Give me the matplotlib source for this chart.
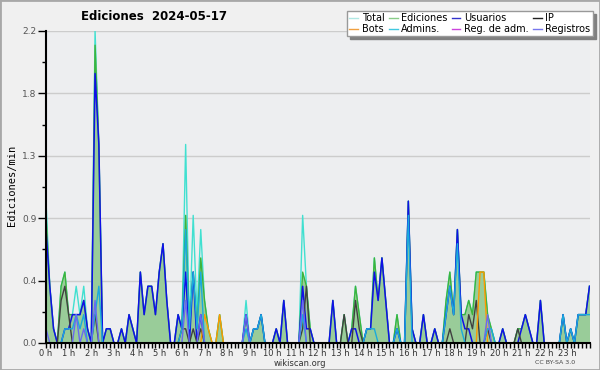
import numpy as np
import matplotlib
matplotlib.use('Agg')
import matplotlib.pyplot as plt
from matplotlib.lines import Line2D
from matplotlib.patches import Rectangle

# edits per 10-minute bin, 145 points from 0 h to 24 h (one row per hour)
ediciones = [
    9, 4, 1, 0, 4, 5,
    2, 2, 2, 2, 3, 1,
    0, 21, 14, 0, 1, 1,
    0, 0, 1, 0, 2, 1,
    0, 5, 2, 4, 4, 2,
    5, 7, 3, 0, 0, 2,
    1, 9, 1, 5, 1, 6,
    3, 1, 0, 0, 2, 0,
    0, 0, 0, 0, 0, 2,
    0, 1, 1, 2, 0, 0,
    0, 1, 0, 3, 0, 0,
    0, 0, 5, 4, 1, 0,
    0, 0, 0, 0, 3, 0,
    0, 2, 0, 1, 4, 2,
    0, 1, 1, 6, 3, 6,
    3, 0, 0, 2, 0, 0,
    10, 1, 0, 0, 2, 0,
    0, 1, 0, 0, 3, 5,
    2, 8, 2, 2, 3, 2,
    5, 5, 5, 2, 1, 0,
    0, 1, 0, 0, 0, 1,
    1, 2, 1, 0, 0, 3,
    0, 0, 0, 0, 0, 2,
    0, 1, 0, 2, 2, 2,
    4]

total = [
    10, 4, 1, 0, 4, 5,
    2, 2, 4, 2, 4, 1,
    0, 22, 14, 0, 1, 1,
    0, 0, 1, 0, 2, 1,
    0, 5, 2, 4, 4, 2,
    5, 7, 3, 0, 0, 2,
    1, 14, 1, 9, 2, 8,
    3, 1, 0, 0, 2, 0,
    0, 0, 0, 0, 0, 3,
    0, 1, 1, 2, 0, 0,
    0, 1, 0, 3, 0, 0,
    0, 0, 9, 4, 1, 0,
    0, 0, 0, 0, 3, 0,
    0, 2, 0, 1, 4, 2,
    0, 1, 1, 6, 3, 6,
    3, 0, 0, 2, 0, 0,
    10, 1, 0, 0, 2, 0,
    0, 1, 0, 0, 3, 5,
    2, 8, 2, 2, 3, 2,
    5, 5, 5, 2, 1, 0,
    0, 1, 0, 0, 0, 1,
    1, 2, 1, 0, 0, 3,
    0, 0, 0, 0, 0, 2,
    0, 1, 0, 2, 2, 2,
    4]

usuarios = [
    8, 4, 1, 0, 0, 1,
    1, 2, 2, 2, 3, 1,
    0, 19, 14, 0, 1, 1,
    0, 0, 1, 0, 2, 1,
    0, 5, 2, 4, 4, 2,
    5, 7, 3, 0, 0, 2,
    1, 5, 0, 5, 0, 2,
    0, 0, 0, 0, 0, 0,
    0, 0, 0, 0, 0, 2,
    0, 1, 1, 2, 0, 0,
    0, 1, 0, 3, 0, 0,
    0, 0, 4, 1, 1, 0,
    0, 0, 0, 0, 3, 0,
    0, 0, 0, 1, 1, 0,
    0, 1, 1, 5, 3, 6,
    3, 0, 0, 1, 0, 0,
    10, 1, 0, 0, 2, 0,
    0, 1, 0, 0, 2, 4,
    2, 8, 2, 1, 1, 0,
    0, 0, 0, 0, 0, 0,
    0, 1, 0, 0, 0, 0,
    1, 2, 1, 0, 0, 3,
    0, 0, 0, 0, 0, 2,
    0, 1, 0, 2, 2, 2,
    4]

ip = [
    0, 0, 0, 0, 3, 4,
    2, 0, 0, 0, 0, 0,
    0, 2, 0, 0, 0, 0,
    0, 0, 0, 0, 0, 0,
    0, 0, 0, 0, 0, 0,
    0, 0, 0, 0, 0, 0,
    1, 1, 0, 1, 0, 1,
    0, 0, 0, 0, 0, 0,
    0, 0, 0, 0, 0, 0,
    0, 0, 0, 0, 0, 0,
    0, 0, 0, 0, 0, 0,
    0, 0, 1, 4, 0, 0,
    0, 0, 0, 0, 0, 0,
    0, 2, 0, 0, 3, 1,
    0, 0, 0, 0, 0, 0,
    0, 0, 0, 0, 0, 0,
    0, 0, 0, 0, 0, 0,
    0, 0, 0, 0, 0, 1,
    0, 0, 0, 0, 2, 1,
    3, 0, 0, 1, 0, 0,
    0, 0, 0, 0, 0, 1,
    0, 0, 0, 0, 0, 0,
    0, 0, 0, 0, 0, 0,
    0, 0, 0, 0, 0, 0,
    0]

bots = [
    0, 0, 0, 0, 0, 0,
    0, 0, 0, 0, 0, 0,
    0, 0, 0, 0, 0, 0,
    0, 0, 0, 0, 0, 0,
    0, 0, 0, 0, 0, 0,
    0, 0, 0, 0, 0, 0,
    0, 0, 0, 0, 0, 0,
    2, 1, 0, 0, 2, 0,
    0, 0, 0, 0, 0, 0,
    0, 0, 0, 0, 0, 0,
    0, 0, 0, 0, 0, 0,
    0, 0, 0, 0, 0, 0,
    0, 0, 0, 0, 0, 0,
    0, 0, 0, 0, 0, 0,
    0, 0, 0, 0, 0, 0,
    0, 0, 0, 0, 0, 0,
    0, 0, 0, 0, 0, 0,
    0, 0, 0, 0, 0, 0,
    0, 0, 0, 0, 0, 0,
    0, 5, 5, 0, 0, 0,
    0, 0, 0, 0, 0, 0,
    0, 0, 0, 0, 0, 0,
    0, 0, 0, 0, 0, 0,
    0, 0, 0, 0, 0, 0,
    0]

admins = [
    0, 0, 0, 0, 0, 1,
    1, 1, 2, 1, 2, 0,
    0, 2, 4, 0, 0, 0,
    0, 0, 0, 0, 0, 0,
    0, 0, 0, 0, 0, 0,
    0, 0, 0, 0, 0, 0,
    1, 8, 1, 5, 1, 5,
    0, 0, 0, 0, 0, 0,
    0, 0, 0, 0, 0, 1,
    0, 1, 1, 2, 0, 0,
    0, 0, 0, 0, 0, 0,
    0, 0, 2, 0, 0, 0,
    0, 0, 0, 0, 0, 0,
    0, 0, 0, 0, 0, 0,
    0, 1, 1, 1, 0, 0,
    0, 0, 0, 1, 0, 0,
    9, 0, 0, 0, 0, 0,
    0, 0, 0, 0, 2, 4,
    2, 7, 1, 0, 0, 0,
    0, 0, 0, 1, 1, 0,
    0, 0, 0, 0, 0, 0,
    0, 0, 0, 0, 0, 0,
    0, 0, 0, 0, 0, 2,
    0, 1, 0, 2, 2, 2,
    2]

registros = [
    1, 0, 0, 0, 0, 0,
    0, 0, 2, 0, 1, 0,
    0, 3, 0, 0, 0, 0,
    0, 0, 0, 0, 0, 0,
    0, 0, 0, 0, 0, 0,
    0, 0, 0, 0, 0, 0,
    0, 3, 0, 0, 0, 2,
    0, 0, 0, 0, 0, 0,
    0, 0, 0, 0, 0, 2,
    0, 0, 0, 0, 0, 0,
    0, 0, 0, 0, 0, 0,
    0, 0, 3, 0, 0, 0,
    0, 0, 0, 0, 0, 0,
    0, 0, 0, 0, 0, 0,
    0, 0, 0, 0, 0, 0,
    0, 0, 0, 0, 0, 0,
    0, 0, 0, 0, 0, 0,
    0, 0, 0, 0, 0, 0,
    0, 0, 0, 0, 0, 0,
    0, 0, 0, 2, 0, 0,
    0, 0, 0, 0, 0, 0,
    0, 0, 0, 0, 0, 0,
    0, 0, 0, 0, 0, 0,
    0, 0, 0, 0, 0, 0,
    0]

hour_labels = ['%d h' % h for h in range(24)]
ytick_vals = [0, 0.44, 0.88, 1.32, 1.76, 2.2]
ytick_labels = ['0.0', '0.4', '0.9', '1.3', '1.8', '2.2']

t = np.arange(len(ediciones)) / 6.0   # hours

def per_min(a):
    return np.array(a) / 10.0

fig = plt.figure(figsize=(6, 3.7), dpi=100, facecolor='#f0f0f0')
fig.patches.append(Rectangle((0, 0), 1, 1, transform=fig.transFigure,
                             fill=False, edgecolor='#a8a8a8', lw=2))
ax = fig.add_axes([46 / 600, 27 / 370, 543.5 / 600, 312 / 370])
ax.set_facecolor('#edeef0')

ax.plot(t, per_min(total), color='#40e0d0', lw=1.0, zorder=2)
ax.fill_between(t, 0, per_min(ediciones), color='#99cc99', lw=0, zorder=3)
ax.plot(t, per_min(ediciones), color='#3cb43c', lw=1.0, zorder=4)
ax.plot(t, per_min(usuarios), color='#1010e8', lw=1.1, zorder=5)
ax.plot(t, per_min(ip), color='#404040', lw=1.0, zorder=6)
ax.plot(t, per_min(bots), color='#ff9900', lw=1.0, zorder=7)
ax.plot(t, per_min(admins), color='#1aaadc', lw=1.0, zorder=8)
ax.plot(t, per_min(registros), color='#6a6af0', lw=1.0, zorder=9)

ax.set_xticks(range(24))
ax.set_xticklabels(hour_labels)
ax.set_xticks(t, minor=True)
ax.set_yticks(ytick_vals)
ax.set_yticklabels(ytick_labels)
ax.set_yticks(np.arange(11) * 0.22, minor=True)
ax.set_xlim(0, 24)
ax.set_ylim(0, 2.2)
ax.tick_params(axis='x', which='both', direction='out', length=3.5, width=1,
               pad=0.5, labelsize=6, labelcolor='#333333')
ax.tick_params(axis='y', which='major', direction='out', length=6, width=1,
               pad=1, labelsize=6.5, labelcolor='#555555')
ax.tick_params(axis='y', which='minor', direction='out', length=3, width=1)
ax.yaxis.grid(True, which='major', color='#cccccc', lw=1)
ax.set_axisbelow(True)
for s in ['top', 'right']:
    ax.spines[s].set_visible(False)
for s in ['left', 'bottom']:
    ax.spines[s].set_linewidth(1.5)
    ax.spines[s].set_zorder(10)

fig.text(154 / 600, 1 - 17 / 370, 'Ediciones  2024-05-17', weight='bold',
         size=8.5, ha='center', va='center')
fig.text(12 / 600, 1 - 185 / 370, 'Ediciones/min', rotation=90,
         family='DejaVu Sans Mono', size=7.5, ha='center', va='center')
fig.text(0.5, 1 - 363 / 370, 'wikiscan.org', size=6, color='#333333',
         ha='center', va='center')
fig.text(555 / 600, 1 - 363 / 370, 'CC BY-SA 3.0', size=4.5, color='#444444',
         ha='center', va='center')

legend_names = ['Total', 'Bots', 'Ediciones', 'Admins.', 'Usuarios',
                'Reg. de adm.', 'IP', 'Registros']
legend_colors = ['#b0e8e4', '#f0a040', '#88cc88', '#40c8e0', '#3333cc',
                 '#cc44dd', '#222222', '#7777ee']
handles = [Line2D([], [], color=c, lw=1) for c in legend_colors]
fig.legend(handles, legend_names, ncol=4, loc='upper right',
           bbox_to_anchor=(593 / 600, 1 - 11 / 370), fontsize=7,
           frameon=True, fancybox=False, edgecolor='#999999', framealpha=1,
           shadow={'color': '#808080', 'alpha': 1}, handlelength=0.9,
           handletextpad=0.4, columnspacing=0.4, borderpad=0.25,
           labelspacing=0.05, borderaxespad=0)

fig.savefig('out.png', dpi=100, facecolor=fig.get_facecolor())
